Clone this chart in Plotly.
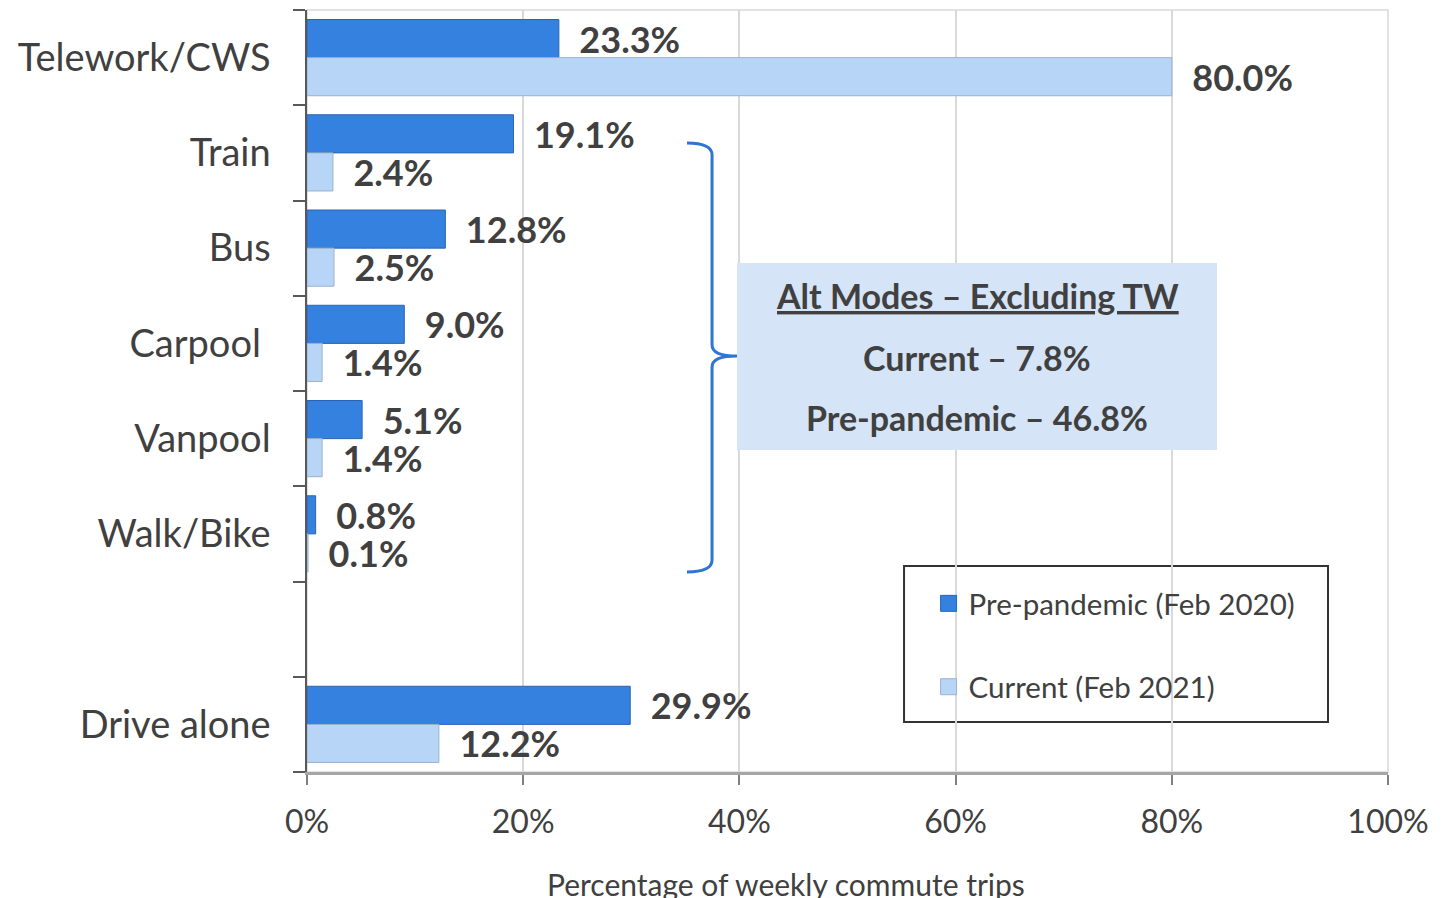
import plotly.graph_objects as go

categories = ["Telework/CWS", "Train", "Bus", "Carpool", "Vanpool", "Walk/Bike", " ", "Drive alone"]
tick_labels = ["Telework/CWS", "Train", "Bus", "Carpool\u00a0", "Vanpool", "Walk/Bike", "", "Drive alone"]
pre_pandemic = [23.3, 19.1, 12.8, 9.0, 5.1, 0.8, None, 29.9]
current = [80.0, 2.4, 2.5, 1.4, 1.4, 0.1, None, 12.2]
series_names = ["Pre-pandemic (Feb 2020)", "Current (Feb 2021)"]
x_ticks = [0, 20, 40, 60, 80, 100]
x_tick_labels = ["0%", "20%", "40%", "60%", "80%", "100%"]

FONT = "Lato, 'Open Sans', sans-serif"
TXT = "#404040"
DARK = "#3481E0"
LIGHT = "#B7D5F7"
DARK_LINE = "#2A65B5"
LIGHT_LINE = "#9DB2CC"


def labels(vals):
    return ["" if v is None else "\u00a0\u00a0" + f"{v:.1f}%" for v in vals]


fig = go.Figure()
for vals, name, col, lc in [(pre_pandemic, series_names[0], DARK, DARK_LINE),
                            (current, series_names[1], LIGHT, LIGHT_LINE)]:
    fig.add_trace(go.Bar(
        y=categories, x=vals, orientation="h", name=name,
        marker=dict(color=col, line=dict(color=lc, width=1)),
        text=labels(vals), textposition="outside", constraintext="none",
        textfont=dict(family=FONT, size=36, color=TXT, weight="bold"),
        cliponaxis=False, showlegend=False,
    ))
# legend entries with larger square swatches
for i, (name, col, lc) in enumerate([(series_names[0], DARK, DARK_LINE),
                                      (series_names[1], LIGHT, LIGHT_LINE)]):
    fig.add_trace(go.Scatter(
        x=[None], y=[None], mode="markers", name=name,
        marker=dict(symbol="square", size=18, color=col, line=dict(color=lc, width=1)),
        legendgroup=f"g{i}", showlegend=True,
    ))

# plot-area border
fig.add_shape(type="rect", xref="paper", yref="paper", x0=0, x1=1, y0=0, y1=1,
              line=dict(color="#D9D9D9", width=1.5), layer="below")

# brace
bx0, bx1, bx2 = 35.15, 37.47, 39.78
fig.add_shape(
    type="path", xref="x", yref="paper",
    path=(f"M {bx0},0.8255 Q {bx1},0.8255 {bx1},0.8097 L {bx1},0.5604 "
          f"Q {bx1},0.5459 {bx2},0.5459 Q {bx1},0.5459 {bx1},0.5315 "
          f"L {bx1},0.2782 Q {bx1},0.2625 {bx0},0.2625"),
    line=dict(color="#2E75D6", width=3),
)

# summary box
fig.add_shape(type="rect", xref="x", yref="paper", x0=39.78, x1=84.18, y0=0.4226, y1=0.668,
              fillcolor="#D5E4F6", line=dict(width=0))
box_lines = ["<u>Alt Modes – Excluding TW</u>", "Current – 7.8%", "Pre-pandemic – 46.8%"]
box_y = [0.6247, 0.5446, 0.4646]
for t, yy in zip(box_lines, box_y):
    fig.add_annotation(x=61.98, xref="x", y=yy, yref="paper", text=t, showarrow=False,
                       font=dict(family=FONT, size=34, color=TXT, weight="bold"),
                       xanchor="center", yanchor="middle")

# legend border
fig.add_shape(type="rect", xref="paper", yref="paper", x0=0.5523, x1=0.9445, y0=0.0656, y1=0.2703,
              line=dict(color="#333333", width=2), fillcolor="white", layer="below")

# x-axis title
fig.add_annotation(x=0.443, xref="paper", y=-0.147, yref="paper", text="Percentage of weekly commute trips",
                   showarrow=False, font=dict(family=FONT, size=30, color=TXT),
                   xanchor="center", yanchor="middle")

fig.update_layout(
    width=1435, height=890,
    margin=dict(l=299, r=55, t=2, b=126),
    paper_bgcolor="white", plot_bgcolor="white",
    barmode="group", bargap=0.2, bargroupgap=0,
    font=dict(family=FONT, color=TXT),
    showlegend=True,
    legend=dict(x=0.575, xanchor="left", y=0.255, yanchor="top",
                bgcolor="rgba(0,0,0,0)", borderwidth=0,
                font=dict(family=FONT, size=29.5, color=TXT),
                traceorder="grouped", tracegroupgap=42),
    xaxis=dict(range=[0, 100], tickvals=x_ticks, ticktext=x_tick_labels,
               showgrid=True, gridcolor="#D9D9D9", gridwidth=1.5, zeroline=False,
               showline=True, linecolor="#A6A6A6", linewidth=2.5,
               ticks="outside", ticklen=10, tickcolor="#7F7F7F", tickwidth=1.5,
               tickfont=dict(family=FONT, size=32, color=TXT), ticklabelstandoff=10),
    yaxis=dict(categoryorder="array", categoryarray=categories, autorange="reversed",
               tickmode="array", tickvals=categories, ticktext=tick_labels,
               showline=True, linecolor="#595959", linewidth=1.5,
               ticks="outside", tickson="boundaries", ticklen=12, tickcolor="#595959", tickwidth=1.5,
               showgrid=False, tickfont=dict(family=FONT, size=38, color=TXT), ticklabelstandoff=27),
)

fig.write_html("out.html")
